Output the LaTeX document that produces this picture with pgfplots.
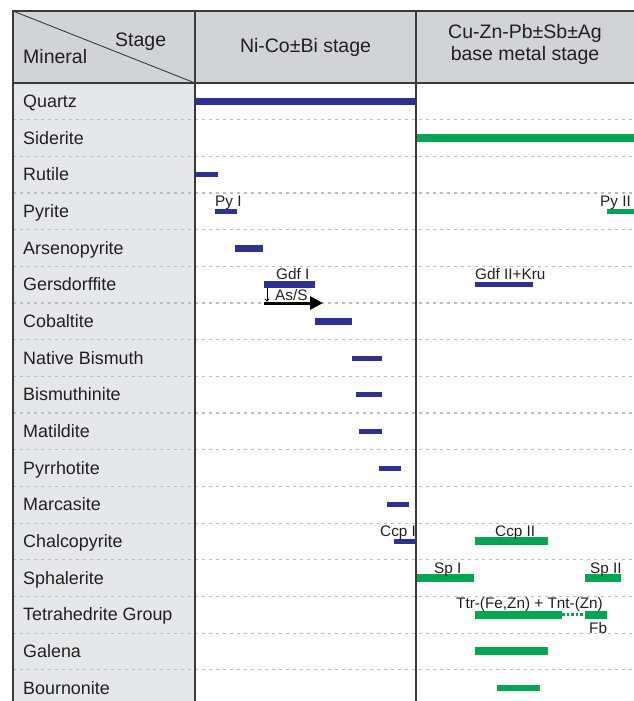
\documentclass[border=0pt]{standalone}
\usepackage{fontspec}
\setmainfont{Liberation Sans}
\usepackage{pgfplots}
\pgfplotsset{compat=1.18}
\usetikzlibrary{arrows.meta}

\definecolor{stageblue}{HTML}{2E3192}
\definecolor{stagegreen}{HTML}{00A651}
\definecolor{headgray}{HTML}{D1D3D4}
\definecolor{colgray}{HTML}{E6E7E8}
\definecolor{rulegray}{HTML}{BCBEC0}
\definecolor{frame}{HTML}{3A3A3A}
\definecolor{ink}{HTML}{231F20}

\newcommand{\hdfont}{\fontsize{19.5}{22}\selectfont}
\newcommand{\mnfont}{\fontsize{17.9}{20}\selectfont}
\newcommand{\lbfont}{\fontsize{15.3}{17}\selectfont}

\begin{document}
\begin{tikzpicture}
\begin{axis}[
  scale only axis, width=634pt, height=701pt,
  xmin=0, xmax=634, ymin=-2.763, ymax=16.352,
  y dir=reverse, axis lines=none, clip=false,
  every axis plot/.style={line cap=butt},
]
% table backgrounds
\fill[headgray] (axis cs:13,-2.463) rectangle (axis cs:634,-0.5);
\fill[colgray] (axis cs:13,-0.5) rectangle (axis cs:195,16.352);

% dashed row separators
\pgfplotsinvokeforeach{0,...,15}{
  \draw[rulegray, line width=1.1pt, dash pattern=on 3pt off 4pt]
    (axis cs:13,#1+0.5) -- (axis cs:634,#1+0.5);
}

% mineral names, one per row
\foreach \r/\name in {0/Quartz, 1/Siderite, 2/Rutile, 3/Pyrite, 4/Arsenopyrite,
  5/Gersdorffite, 6/Cobaltite, 7/Native Bismuth, 8/Bismuthinite,
  9/Matildite, 10/Pyrrhotite, 11/Marcasite, 12/Chalcopyrite,
  13/Sphalerite, 14/Tetrahedrite Group, 15/Galena, 16/Bournonite}{
  \edef\tmp{\noexpand\node[anchor=base west, inner sep=0pt, text=ink, font=\noexpand\mnfont]
    at (axis cs:23,\r+0.164) {\name};}
  \tmp
}

% Ni-Co+-Bi stage (blue)
\addplot[stageblue, line width=7pt] coordinates {(196,0) (416,0)};    % Quartz
\addplot[stageblue, line width=5pt] coordinates {(196,2) (218,2)};    % Rutile
\addplot[stageblue, line width=5pt] coordinates {(215,3) (237,3)};    % Py I
\addplot[stageblue, line width=7pt] coordinates {(235,4) (263,4)};    % Arsenopyrite
\addplot[stageblue, line width=7pt] coordinates {(264,5) (315,5)};    % Gdf I
\addplot[stageblue, line width=5pt] coordinates {(475,5) (533,5)};    % Gdf II + Kru
\addplot[stageblue, line width=7pt] coordinates {(315,6) (352,6)};    % Cobaltite
\addplot[stageblue, line width=5pt] coordinates {(352,7) (382,7)};    % Native bismuth
\addplot[stageblue, line width=5pt] coordinates {(356,8) (382,8)};    % Bismuthinite
\addplot[stageblue, line width=5pt] coordinates {(359,9) (382,9)};    % Matildite
\addplot[stageblue, line width=5pt] coordinates {(379,10) (401,10)};  % Pyrrhotite
\addplot[stageblue, line width=5pt] coordinates {(387,11) (409,11)};  % Marcasite
\addplot[stageblue, line width=5pt] coordinates {(394,12) (416,12)};  % Ccp I

% base metal stage (green)
\addplot[stagegreen, line width=8pt] coordinates {(416,1) (634,1)};   % Siderite
\addplot[stagegreen, line width=5pt] coordinates {(607,3) (634,3)};   % Py II
\addplot[stagegreen, line width=8pt] coordinates {(475,12) (548,12)}; % Ccp II
\addplot[stagegreen, line width=7.5pt] coordinates {(416,13) (474,13)}; % Sp I
\addplot[stagegreen, line width=7.5pt] coordinates {(585,13) (621,13)}; % Sp II
\addplot[stagegreen, line width=8pt] coordinates {(475,14) (562,14)}; % Ttr + Tnt
\addplot[stagegreen, line width=3pt, dash pattern=on 2.5pt off 2pt] coordinates {(562,14) (585,14)};
\addplot[stagegreen, line width=8pt] coordinates {(585,14) (607,14)}; % Fb
\addplot[stagegreen, line width=8pt] coordinates {(475,15) (548,15)}; % Galena
\addplot[stagegreen, line width=6pt] coordinates {(497,16) (540,16)}; % Bournonite

% bar labels
\begin{scope}[every node/.style={anchor=base west, inner sep=0pt, text=ink, font=\lbfont}]
\node at (axis cs:215,2.864) {Py I};
\node at (axis cs:600,2.864) {Py II};
\node at (axis cs:276,4.864) {Gdf I};
\node at (axis cs:475,4.864) {Gdf II+Kru};
\node at (axis cs:380,11.864) {Ccp I};
\node at (axis cs:495,11.864) {Ccp II};
\node at (axis cs:434,12.864) {Sp I};
\node at (axis cs:590,12.864) {Sp II};
\node at (axis cs:456,13.836) {Ttr-(Fe,Zn) + Tnt-(Zn)};
\node at (axis cs:589,14.5) {Fb};
\node at (axis cs:275,5.43) {As/S};
\end{scope}

% As/S trend arrow
\draw[black, line width=3pt, -{Triangle[length=13pt, width=13pt]}]
  (axis cs:264,5.5) -- (axis cs:323,5.5);
\draw[black, line width=0.9pt, -{To[length=3pt, width=5pt]}]
  (axis cs:267,5.09) -- (axis cs:267,5.46);

% frame
\draw[frame, line width=1.4pt] (axis cs:634,-2.463) -- (axis cs:13,-2.463) -- (axis cs:13,16.352);
\draw[frame, line width=1.4pt] (axis cs:13,-0.5) -- (axis cs:634,-0.5);
\draw[frame, line width=1.4pt] (axis cs:195,-2.463) -- (axis cs:195,16.352);
\draw[frame, line width=1.8pt] (axis cs:416,-2.463) -- (axis cs:416,16.352);
\draw[frame, line width=0.9pt] (axis cs:13,-2.463) -- (axis cs:195,-0.5);

% header text
\node[anchor=base west, inner sep=0pt, text=ink, font=\hdfont] at (axis cs:23,-1.045) {Mineral};
\node[anchor=base west, inner sep=0pt, text=ink, font=\hdfont] at (axis cs:115,-1.482) {Stage};
\node[anchor=base, inner sep=0pt, text=ink, font=\hdfont] at (axis cs:305.5,-1.318) {Ni-Co±Bi stage};
\node[anchor=base, inner sep=0pt, text=ink, font=\hdfont] at (axis cs:525,-1.713) {Cu-Zn-Pb±Sb±Ag};
\node[anchor=base, inner sep=0pt, text=ink, font=\hdfont] at (axis cs:525,-1.100) {base metal stage};
\end{axis}
\pgfresetboundingbox
\path[use as bounding box] (current axis.south west) rectangle (current axis.north east);
\end{tikzpicture}
\end{document}
